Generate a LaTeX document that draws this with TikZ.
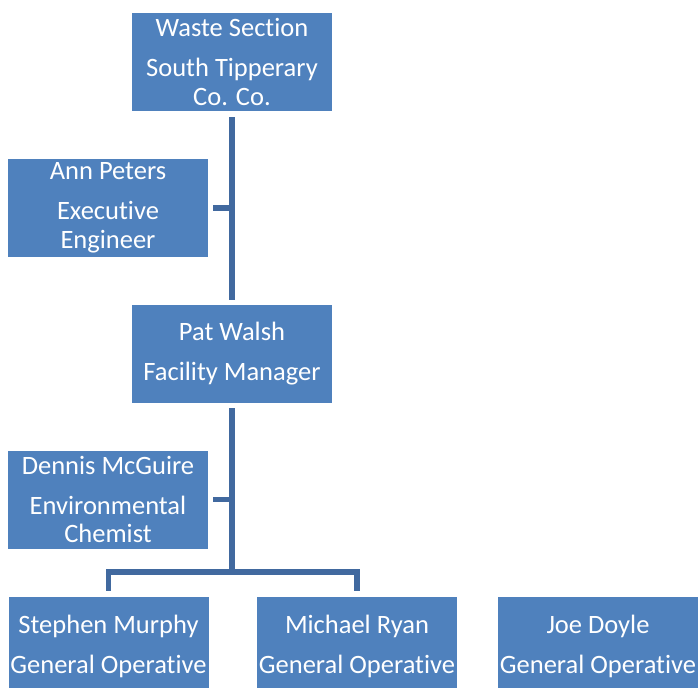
\documentclass[tikz,border=0pt]{standalone}
\usepackage{fontspec}
\setmainfont{Carlito}[Ligatures={NoCommon,NoRequired}]
\usepackage{tikz}
\usepackage{color}

\begin{document}
\begin{tikzpicture}
		[x=1pt,y=-1pt,line cap=butt,
		%Styles
		unit/.style={rectangle,fill=unitblue,text=white,minimum width=200pt,minimum height=98pt,
			inner sep=0pt,align=center,font=\fontsize{26.5}{28.5}\selectfont},
		link/.style={draw=linkblue,line width=5.5pt}
		]
		
		%Colors
		\definecolor{unitblue}{HTML}{4F81BD}
		\definecolor{linkblue}{HTML}{41699F}
		
		\useasboundingbox (0,0) rectangle (699,688);
		
		\node[unit] (waste) at (232,62) {Waste Section\\[11.5pt] South Tipperary\\ Co. Co.};
		\node[unit] (peters) at (108,208) {Ann Peters\\[11.5pt] Executive\\ Engineer};
		\node[unit] (walsh) at (232,354) {Pat Walsh\\[11.5pt] Facility Manager};
		\node[unit] (mcguire) at (108,499.5) {Dennis McGuire\\[11.5pt] Environmental\\ Chemist};
		\node[unit] (murphy) at (108.5,646) {Stephen Murphy\\[11.5pt] General Operative};
		\node[unit] (ryan) at (357,646) {Michael Ryan\\[11.5pt] General Operative};
		\node[unit] (doyle) at (598,646) {Joe Doyle\\[11.5pt] General Operative};
		
		\coordinate (fork) at (232,572);
		
		\path[link]
			(waste.south) ++(0,6) -- ([yshift=5pt]walsh.north)
			([xshift=5pt]peters.east) -- (peters.east -| waste.south)
			(walsh.south) ++(0,5) -- (fork)
			([xshift=5pt]mcguire.east) -- (mcguire.east -| walsh.south)
			([yshift=6pt]murphy.north) |- (fork) -| ([yshift=6pt]ryan.north);
	\end{tikzpicture}
\end{document}
